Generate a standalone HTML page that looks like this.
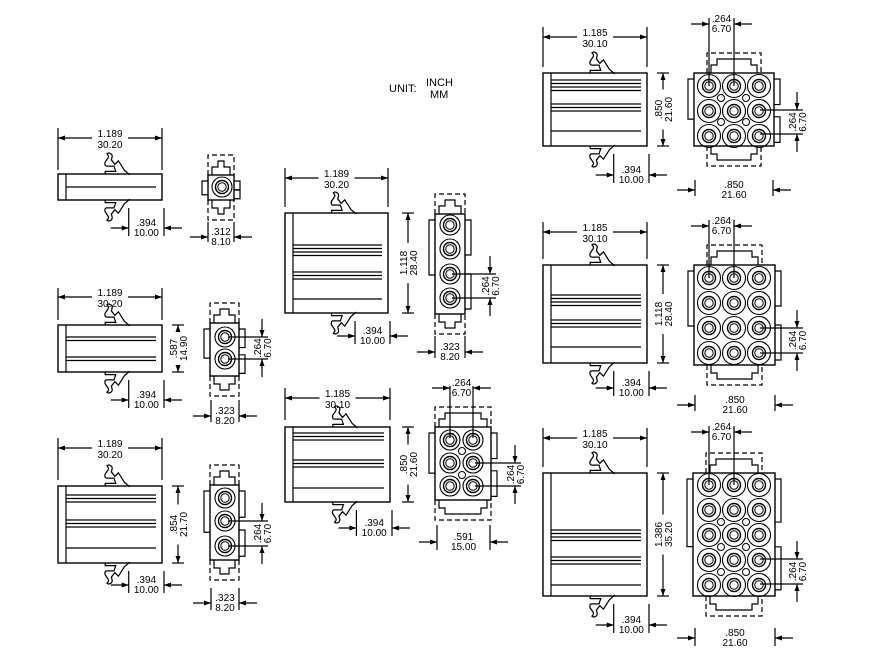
<!DOCTYPE html>
<html><head><meta charset="utf-8"><style>
html,body{margin:0;padding:0;background:#fff;width:872px;height:658px;overflow:hidden}
svg{display:block}
text{font-family:"Liberation Sans",sans-serif;font-size:10px;fill:#000}
</style></head><body>
<svg id="s" width="872" height="658" viewBox="0 0 872 658" xmlns="http://www.w3.org/2000/svg">
<text x="389" y="92" style="font-size:11px">UNIT:</text>
<text x="426" y="86" style="font-size:11px">INCH</text>
<text x="430" y="98" style="font-size:11px">MM</text>
</svg>
<script>
var S=document.getElementById('s'),NS='http://www.w3.org/2000/svg';
function el(t,a,txt){var e=document.createElementNS(NS,t);for(var k in a)e.setAttribute(k,a[k]);if(txt!=null)e.textContent=txt;S.appendChild(e);return e;}
function L(x1,y1,x2,y2,d){var a={x1:x1,y1:y1,x2:x2,y2:y2,stroke:'#000','stroke-width':1.2};if(d)a['stroke-dasharray']='5,3';el('line',a);}
function R(x,y,w,h,sw){el('rect',{x:x,y:y,width:w,height:h,fill:'none',stroke:'#000','stroke-width':sw||1.4});}
function C(x,y,r,sw){el('circle',{cx:x,cy:y,r:r,fill:'none',stroke:'#000','stroke-width':sw||1.2});}
function P(d,sw,dash,tr){var a={d:d,fill:'none',stroke:'#000','stroke-width':sw||1.2};if(dash)a['stroke-dasharray']='5,3';if(tr)a.transform=tr;el('path',a);}
function T(x,y,s,anchor,rot){var a={x:x,y:y,'text-anchor':anchor||'middle'};if(rot)a.transform='rotate(-90 '+x+' '+y+')';el('text',a,s);}
function arrR(x,y){el('path',{d:'M'+x+' '+y+'l-7 -2.5v5z',fill:'#000'});}
function arrL(x,y){el('path',{d:'M'+x+' '+y+'l7 -2.5v5z',fill:'#000'});}
function arrD(x,y){el('path',{d:'M'+x+' '+y+'l-2.5 -7h5z',fill:'#000'});}
function arrU(x,y){el('path',{d:'M'+x+' '+y+'l-2.5 7h5z',fill:'#000'});}
function hdim(x1,x2,y,t1,t2,e1,e2){L(x1,e1,x1,e2);L(x2,e1,x2,e2);var m=(x1+x2)/2;
 L(x1,y,m-18,y);L(m+18,y,x2,y);arrL(x1,y);arrR(x2,y);T(m,y-1,t1);T(m,y+10,t2);}
function hdimOut(x1,x2,y,t1,t2,e1,e2){L(x1,e1,x1,e2);L(x2,e1,x2,e2);L(x1-18,y,x1,y);L(x2,y,x2+18,y);arrR(x1,y);arrL(x2,y);var m=(x1+x2)/2;T(m,y-2,t1);T(m,y+8,t2);}
function vdim(x,y1,y2,t1,t2){L(x-6,y1,x+6,y1);L(x-6,y2,x+6,y2);var m=(y1+y2)/2;L(x,y1,x,m-20);L(x,m+20,x,y2);arrU(x,y1);arrD(x,y2);T(x-1,m,t1,'middle',1);T(x+9,m,t2,'middle',1);}
function vdimOut(x,y1,y2,t1,t2,xe){L(xe,y1,x+6,y1);L(xe,y2,x+6,y2);L(x,y1-18,x,y1);L(x,y2,x,y2+18);arrD(x,y1);arrU(x,y2);var m=(y1+y2)/2;T(x-1,m,t1,'middle',1);T(x+9,m,t2,'middle',1);}
var LT='M-22 0v-3h12l-2 -6h-8c-3 0 -3 -4 -1 -6l2 -3c2 -2 0 -4 -1 -5c2 -2 6 0 6 3l-1 4 4 5 4 -4 7 11 6 5';
function latchTop(x,y){P(LT,1.4,0,'translate('+x+' '+y+') scale(0.88)');}
function latchBot(x,y){P(LT,1.4,0,'translate('+x+' '+y+') scale(0.88 -0.88)');}
function side(x,y,w,h,gr){
 R(x,y,w,h);L(x+8,y,x+8,y+h);
 gr.forEach(function(g){L(x+8,g,x+w-6,g);});
 latchTop(x+0.64*w,y);latchBot(x+0.64*w,y+h);
}
function d394(x,y,w,h,ty){hdimOut(x+0.68*w,x+w+2,ty,'.394','10.00',y+h+8,ty+8);}
function endv(x,y,w,h,circ,big){
 R(x,y,w,h);
 P('M'+x+' '+(y+6)+'h-6v'+(h*0.55)+'h6');P('M'+(x+w)+' '+(y+6)+'h6v'+(h*0.35)+'h-6');
 P('M'+(x+w)+' '+(y+h*0.6)+'h6v'+(h*0.35)+'h-6');
 var gx1=x+(big?13:0),gx2=x+w-(big?13:0);
 P('M'+gx1+' '+y+'v-20h'+(gx2-gx1)+'v20',1.2,1);
 P('M'+(gx1+4)+' '+y+'v-8h6v-6h'+(gx2-gx1-20)+'v6h6v8');
 P('M'+gx1+' '+(y+h)+'v20h'+(gx2-gx1)+'v-20',1.2,1);
 P('M'+(gx1+4)+' '+(y+h)+'v8h6v6h'+(gx2-gx1-20)+'v-6h6v-8');
 circ.forEach(function(c){var r=big?11.5:10;C(c[0],c[1],r,1.1);C(c[0],c[1],6.5,1.4);C(c[0],c[1],4.2,1);});
}
function smalls(list){list.forEach(function(c){C(c[0],c[1],3.5,1);});}
function grid(x0,y0,cols,rows,p){var a=[];for(var r=0;r<rows;r++)for(var c=0;c<cols;c++)a.push([x0+c*p,y0+r*p]);return a;}
function grp(y,n){var a=[];for(var i=0;i<n;i++)a.push(y+i*3.5);return a;}

side(58,174,104,26,[187]);hdim(58,162,138,'1.189','30.20',128,170);d394(58,174,104,26,228);
endv(208,175,26,25,[[222,187]],0);hdimOut(208,234,237,'.312','8.10',222,242);
side(58,325,104,47,[].concat(grp(337,2),grp(357,2)));hdim(58,162,297,'1.189','30.20',288,320);vdim(178,325,372,'.587','14.90');d394(58,325,104,47,400);
endv(210,323,29,53,[[225,337],[225,359]],0);vdimOut(262,337,359,'.264','6.70',228);hdimOut(211,239,416,'.323','8.20',400,422);
side(58,486,104,77,[].concat(grp(495,3),grp(520,3),[548]));hdim(58,162,448,'1.189','30.20',438,480);vdim(178,486,563,'.854','21.70');d394(58,486,104,77,585);
endv(210,485,29,75,[[225,498],[225,521],[225,546]],0);vdimOut(262,521,546,'.264','6.70',228);hdimOut(211,239,603,'.323','8.20',588,610);
side(285,213,103,100,[].concat(grp(245,4),grp(272,3),[299]));hdim(285,388,178,'1.189','30.20',168,207);vdim(408,213,313,'1.118','28.40');d394(285,213,103,100,336);
endv(435,214,30,100,[[450,225],[450,249],[450,274],[450,298]],0);vdimOut(490,274,298,'.264','6.70',452);hdimOut(435,465,352,'.323','8.20',336,358);
side(285,427,105,75,[].concat(grp(433,3),grp(460,3),[488]));hdim(285,390,398,'1.185','30.10',388,420);vdim(408,427,502,'.850','21.60');d394(285,427,105,75,528);
endv(435,427,56,73,[[450,440],[473,440],[450,463],[473,463],[450,486],[473,486]],0);smalls([[462,451],[462,475]]);
hdimOut(450,473,388,'.264','6.70',386,438);vdimOut(515,463,486,'.264','6.70',475);hdimOut(437,490,542,'.591','15.00',525,550);
side(543,73,104,73,[].concat(grp(80,4),grp(104,3),[131]));hdim(543,647,37,'1.185','30.10',27,67);vdim(663,73,146,'.850','21.60');d394(543,73,104,73,175);
endv(694,73,80,73,grid(709,86,3,3,25),1);smalls([[721,98],[746,98],[721,122],[746,122]]);
hdimOut(709,734,24,'.264','6.70',18,86);vdimOut(797,110,134,'.264','6.70',760);hdimOut(695,773,190,'.850','21.60',180,196);
side(543,265,104,98,[].concat(grp(295,4),grp(320,3),[347]));hdim(543,647,232,'1.185','30.10',222,259);vdim(663,265,363,'1.118','28.40');d394(543,265,104,98,388);
endv(694,265,81,100,grid(709,278,3,4,25),1);
hdimOut(709,734,226,'.264','6.70',220,278);vdimOut(797,328,353,'.264','6.70',760);hdimOut(695,775,405,'.850','21.60',395,411);
side(543,473,104,123,[].concat(grp(530,4),grp(557,3),[585]));hdim(543,647,438,'1.185','30.10',428,467);vdim(663,473,596,'1.386','35.20');d394(543,473,104,123,625);
endv(693,473,82,123,grid(709,485,3,5,25),1);smalls([[721,522],[746,522],[721,547],[746,547],[721,572],[746,572]]);
hdimOut(709,734,432,'.264','6.70',426,485);vdimOut(797,559,584,'.264','6.70',760);hdimOut(695,775,638,'.850','21.60',628,646);
</script>
</body></html>
